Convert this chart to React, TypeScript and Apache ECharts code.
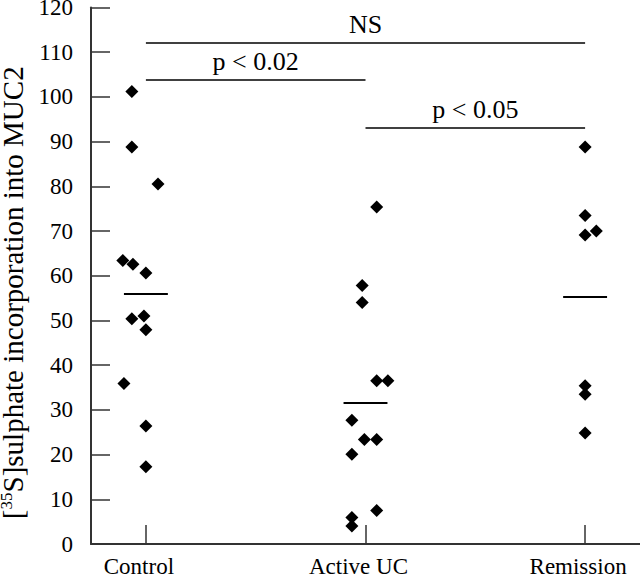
import React, { useEffect, useRef } from "react";
import * as echarts from "echarts";

const categories = ["Control", "Active UC", "Remission"];
const controlValues = [101.2, 88.8, 80.5, 63.4, 62.6, 60.6, 50.4, 51.0, 47.9, 35.9, 26.4, 17.3];
const controlJitter = [-0.064, -0.064, 0.055, -0.105, -0.059, 0, -0.064, -0.009, 0, -0.1, 0, 0];
const activeUCValues = [75.4, 57.8, 54.0, 36.5, 36.5, 27.7, 23.4, 23.4, 20.1, 7.5, 5.9, 4.0];
const activeUCJitter = [0.051, -0.015, -0.015, 0.051, 0.102, -0.062, -0.005, 0.051, -0.062, 0.051, -0.062, -0.062];
const remissionValues = [88.8, 73.5, 70.0, 69.1, 35.4, 33.5, 24.8];
const remissionJitter = [0, 0, 0.051, 0, 0, 0, 0];
const groupMeans = [55.9, 31.6, 55.3];
const comparisonFrom = [0, 0, 1];
const comparisonTo = [2, 1, 2];
const comparisonLevels = [112.2, 103.9, 93.2];
const comparisonLabels = ["NS", "p < 0.02", "p < 0.05"];
const yTicks = [0, 10, 20, 30, 40, 50, 60, 70, 80, 90, 100, 110, 120];

const FONT = "'Liberation Serif', 'DejaVu Serif', serif";

export default function App() {
  const ref = useRef<HTMLDivElement>(null);
  useEffect(() => {
    if (!ref.current) return;
    const chart = echarts.init(ref.current, null, { renderer: "svg" });
    const groups = [
      { values: controlValues, jitter: controlJitter },
      { values: activeUCValues, jitter: activeUCJitter },
      { values: remissionValues, jitter: remissionJitter },
    ];
    const half = 0.1;
    const series: any[] = groups.map((g, gi) => ({
      type: "scatter",
      symbol: "diamond",
      symbolSize: 13,
      itemStyle: { color: "#000", opacity: 1 },
      silent: true,
      data: g.values.map((v, i) => [gi + 1 + g.jitter[i], v]),
      markLine: {
        silent: true,
        symbol: ["none", "none"],
        label: { show: false },
        lineStyle: { color: "#000", width: 2, type: "solid", opacity: 1 },
        data: [[{ coord: [gi + 1 - half, groupMeans[gi]] }, { coord: [gi + 1 + half, groupMeans[gi]] }]],
      },
    }));
    series.push({
      type: "scatter",
      data: [],
      silent: true,
      markLine: {
        silent: true,
        symbol: ["none", "none"],
        lineStyle: { color: "#000", width: 1.5, type: "solid", opacity: 1 },
        label: {
          show: true,
          position: "middle",
          formatter: "{b}",
          fontFamily: FONT,
          fontSize: 26,
          color: "#000",
          distance: 5,
        },
        data: comparisonLabels.map((lab, i) => [
          { name: lab, coord: [comparisonFrom[i] + 1, comparisonLevels[i]] },
          { coord: [comparisonTo[i] + 1, comparisonLevels[i]] },
        ]),
      },
    });
    chart.setOption({
      animation: false,
      backgroundColor: "#fff",
      grid: { left: 91, right: 0, top: 7.5, bottom: 31, outerBoundsMode: "none", containLabel: false },
      xAxis: {
        type: "value",
        min: 0.75,
        max: 3.25,
        splitLine: { show: false },
        axisLine: { show: true, lineStyle: { color: "#333", width: 2 } },
        axisTick: {
          show: true,
          inside: true,
          length: 19,
          customValues: [1, 2, 3],
          lineStyle: { color: "#333", width: 1.5 },
        },
        axisLabel: {
          customValues: [1, 2, 3],
          formatter: (v: number) => categories[Math.round(v) - 1] ?? "",
          fontFamily: FONT,
          fontSize: 23,
          color: "#000",
          margin: 11,
          padding: [0, 14, 0, 0],
        },
      },
      yAxis: {
        type: "value",
        min: 0,
        max: 120,
        interval: 10,
        splitLine: { show: false },
        axisLine: { show: true, lineStyle: { color: "#333", width: 2 } },
        axisTick: { show: true, inside: true, length: 19, lineStyle: { color: "#333", width: 1.5 } },
        axisLabel: {
          fontFamily: FONT,
          fontSize: 23,
          color: "#000",
          margin: 18,
          formatter: (v: number) => (yTicks.includes(v) ? String(v) : ""),
        },
        name: "[{sup|35}S]sulphate incorporation into MUC2",
        nameLocation: "middle",
        nameRotate: 90,
        nameGap: 52,
        nameTextStyle: {
          fontFamily: FONT,
          fontSize: 29,
          color: "#000",
          lineHeight: 30,
          padding: [0, 34, 0, 0],
          rich: {
            sup: { fontFamily: FONT, fontSize: 17, lineHeight: 17, verticalAlign: "top", color: "#000" },
          },
        },
      },
      series,
    });
    return () => chart.dispose();
  }, []);
  return (
    <div
      ref={ref}
      style={{ position: "fixed", left: 0, top: 0, width: 640, height: 575, background: "#fff" }}
    />
  );
}
